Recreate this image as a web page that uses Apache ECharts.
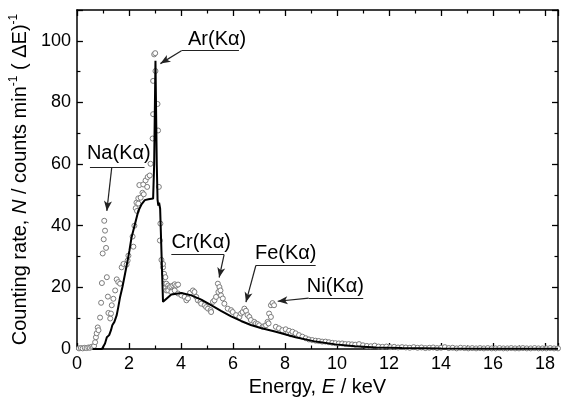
<!DOCTYPE html>
<html><head><meta charset="utf-8">
<script src="https://cdn.jsdelivr.net/npm/echarts@6/dist/echarts.min.js"></script>
<style>html,body{margin:0;padding:0;background:#fff}#c{width:561px;height:408px}</style>
</head><body><div id="c"></div>
<script>
// Measured spectrum (scatter points): [energy keV, counting rate]
const measured = [
[0.08,0.2],[0.15,0.3],[0.22,0.2],[0.3,0.4],[0.37,0.3],[0.44,0.5],[0.5,0.4],[0.56,0.7],[0.62,0.6],[0.66,1.0],[0.7,2.2],[0.73,3.8],[0.76,5.1],[0.8,7.0],[0.83,6.1],[0.89,10.2],[0.93,15.0],[0.96,21.4],[0.99,31.0],[1.03,35.6],[1.05,41.6],[1.08,38.4],[1.12,32.8],[1.15,23.3],[1.19,17.0],[1.21,11.7],[1.28,9.9],[1.31,11.5],[1.34,14.2],[1.40,16.3],[1.47,19.0],[1.53,22.6],[1.59,21.7],[1.66,21.2],[1.72,26.5],[1.79,27.6],[1.91,27.4],[1.95,28.7],[1.98,30.3],[2.14,36.5],[2.17,33.2],[2.21,40.0],[2.26,45.7],[2.29,47.5],[2.31,44.8],[2.36,47.2],[2.36,48.9],[2.40,53.2],[2.45,49.1],[2.52,50.7],[2.55,53.4],[2.57,50.2],[2.64,54.7],[2.70,52.6],[2.72,55.8],[2.80,56.3],[2.83,60.1],[2.91,68.3],[2.93,76.2],[2.93,87.0],[2.97,95.6],[3.01,96.0],[3.02,90.2],[3.10,79.5],[3.12,70.9],[3.15,52.6],[3.19,35.2],[3.21,40.7],[3.25,28.9],[3.31,26.5],[3.31,27.6],[3.35,24.4],[3.38,21.2],[3.40,23.3],[3.44,19.0],[3.44,21.2],[3.51,20.6],[3.51,19.6],[3.51,19.0],[3.57,20.1],[3.63,20.3],[3.63,18.5],[3.70,20.6],[3.76,21.0],[3.76,19.0],[3.82,20.6],[3.89,20.9],[3.89,18.0],[4.02,17.4],[4.14,16.9],[4.21,15.8],[4.27,16.4],[4.35,18.2],[4.46,19.0],[4.52,18.5],[4.59,16.9],[4.65,15.8],[4.75,15.3],[4.78,14.7],[4.91,14.2],[4.97,13.6],[5.04,13.1],[5.14,12.6],[5.16,12.0],[5.23,15.3],[5.29,15.8],[5.35,16.9],[5.42,21.2],[5.44,18.5],[5.48,20.1],[5.52,19.0],[5.54,17.4],[5.61,16.4],[5.67,14.7],[5.80,13.1],[5.93,12.6],[5.99,12.0],[6.12,11.0],[6.25,10.4],[6.31,11.5],[6.37,12.0],[6.44,13.1],[6.50,12.4],[6.56,11.0],[6.63,10.4],[6.69,9.4],[6.82,8.8],[6.88,8.3],[6.95,8.1],[7.01,7.7],[7.14,7.2],[7.20,7.4],[7.27,7.7],[7.33,8.8],[7.37,8.3],[7.39,11.5],[7.46,10.4],[7.46,14.2],[7.52,14.9],[7.58,14.2],[7.65,7.2],[7.77,6.7],[7.90,6.1],[8.03,6.4],[8.10,5.2],[8.16,5.9],[8.22,4.8],[8.29,5.6],[8.41,5.1],[8.54,4.5],[8.67,4.0],[8.80,3.5],[8.92,3.1],[9.05,2.9],[9.18,2.7],[9.30,2.6],[9.43,2.4],[9.56,2.4],[9.69,2.2],[9.82,2.0],[9.94,1.9],[10.07,1.8],[10.20,1.8],[10.32,1.6],[10.45,1.6],[10.58,1.5],[10.7,1.4],[10.85,1.6],[11.0,1.2],[11.15,1.0],[11.3,0.9],[11.45,1.1],[11.6,0.8],[11.75,0.7],[11.9,0.8],[12.05,0.6],[12.2,0.7],[12.35,0.5],[12.5,0.6],[12.65,0.5],[12.8,0.4],[12.95,0.6],[13.1,0.4],[13.25,0.5],[13.4,0.3],[13.55,0.4],[13.7,0.5],[13.85,0.3],[14.0,0.4],[14.15,0.6],[14.3,0.3],[14.45,0.4],[14.6,0.2],[14.75,0.4],[14.9,0.3],[15.05,0.2],[15.2,0.3],[15.35,0.2],[15.5,0.3],[15.65,0.2],[15.8,0.3],[15.95,0.2],[16.1,0.2],[16.25,0.3],[16.4,0.2],[16.55,0.2],[16.7,0.3],[16.85,0.2],[17.0,0.2],[17.15,0.3],[17.3,0.2],[17.45,0.2],[17.6,0.3],[17.75,0.2],[17.9,0.2],[18.05,0.2],[18.2,0.3],[18.35,0.2],[18.5,0.2]
];
// Calculated spectrum (solid line)
const calculated = [
[0.6,0],[0.96,0],[1.08,1.8],[1.15,3.8],[1.24,4.5],[1.31,6.1],[1.36,7.7],[1.44,8.8],[1.53,11],[1.59,13.6],[1.66,16.9],[1.75,20.1],[1.85,24.4],[1.95,28.7],[2.02,32],[2.10,36.2],[2.23,40.5],[2.36,44.8],[2.49,47],[2.61,48.3],[2.75,48.6],[2.93,48.8],[2.97,60],[3.02,93.5],[3.07,60],[3.10,48.5],[3.13,46.5],[3.16,47.5],[3.20,45.5],[3.31,15.3],[3.63,17.7],[4.02,18.2],[4.40,17.4],[4.78,16],[5.16,14.2],[5.54,12.4],[5.93,10.6],[6.31,9.1],[6.69,7.8],[7.07,6.8],[7.65,5.6],[8.41,3.8],[9.18,2.4],[9.94,1.5],[10.7,0.9],[11.5,0.5],[12.5,0.3],[14,0.15],[16,0.08],[18.5,0.05]
];
// Peak annotations: label, text anchor, underline start/end, arrow start/tip (data coords)
const peakLabels = ['Na(K\u03b1)','Ar(K\u03b1)','Cr(K\u03b1)','Fe(K\u03b1)','Ni(K\u03b1)'];
const labelAt   = [[1.61,63.5],[5.39,100.3],[4.78,34.5],[8.03,31.0],[9.94,20.3]];
const underline = [[[0.50,59.0],[2.60,59.0]],[[4.02,96.8],[6.23,96.8]],[[3.63,30.6],[5.66,30.6]],[[6.88,27.1],[9.18,27.1]],[[8.91,16.5],[11.01,16.5]]];
const arrows    = [[[1.34,59.0],[1.15,44.8]],[[4.02,96.8],[3.21,92.6]],[[5.66,30.6],[5.47,23.2]],[[6.88,27.1],[6.50,15.2]],[[8.91,16.5],[7.72,15.5]]];
const xTicks = [0,2,4,6,8,10,12,14,16,18];
const yTicks = [0,20,40,60,80,100];

const FONT = "'Liberation Sans', Arial, Helvetica, sans-serif";
const chart = echarts.init(document.getElementById('c'), null, {renderer:'canvas'});

const axisCommon = {
  type:'value',
  axisLine:{show:true,onZero:false,lineStyle:{color:'#000',width:1.5}},
  axisTick:{show:true,inside:true,length:6,lineStyle:{color:'#000',width:1.3}},
  minorTick:{show:true,splitNumber:2,length:3.5,lineStyle:{color:'#000',width:1.2}},
  splitLine:{show:false}, minorSplitLine:{show:false}
};

const lineMarks = [];
underline.forEach(u=>lineMarks.push([{coord:u[0],symbol:'none'},{coord:u[1],symbol:'none'}]));
arrows.forEach(a=>lineMarks.push([{coord:a[0],symbol:'none'},{coord:a[1],symbol:'arrow',symbolSize:[6,10]}]));

chart.setOption({
  animation:false,
  backgroundColor:'#fff',
  textStyle:{fontFamily:FONT},
  grid:{left:75,right:1,top:10,bottom:59,containLabel:false},
  xAxis:[
    Object.assign({}, axisCommon, {
      position:'bottom', min:0, max:18.5, interval:2,
      axisLabel:{color:'#000',fontSize:18,fontFamily:FONT,margin:6,
        formatter:v=> xTicks.includes(v)? String(v):''},
      name:'{n|Energy, }{i|E}{n| / keV}', nameLocation:'middle', nameGap:25,
      nameTextStyle:{rich:{n:{fontSize:20,fontFamily:FONT,color:'#000'},i:{fontSize:20,fontFamily:FONT,fontStyle:'italic',color:'#000'}}}
    }),
    Object.assign({}, axisCommon, {position:'top', min:0, max:18.5, interval:2, axisLabel:{show:false}})
  ],
  yAxis:[
    Object.assign({}, axisCommon, {
      position:'left', min:0, max:110, interval:20,
      axisLabel:{color:'#000',fontSize:18,fontFamily:FONT,margin:6,
        formatter:v=> yTicks.includes(v)? String(v):''},
      name:'{n|Counting rate, }{i|N}{n| / counts min}{s|-1}{n| ( \u0394E)}{s|-1}',
      nameLocation:'middle', nameGap:46, nameRotate:90,
      nameTextStyle:{rich:{
        n:{fontSize:20,fontFamily:FONT,color:'#000',lineHeight:22,verticalAlign:'bottom'},
        i:{fontSize:20,fontFamily:FONT,fontStyle:'italic',color:'#000',lineHeight:22,verticalAlign:'bottom'},
        s:{fontSize:12,fontFamily:FONT,color:'#000',lineHeight:22,verticalAlign:'top'}}}
    }),
    Object.assign({}, axisCommon, {position:'right', min:0, max:110, interval:20, axisLabel:{show:false}})
  ],
  series:[
    {type:'scatter', data:measured, symbol:'circle', symbolSize:5,
      itemStyle:{color:'#fff',borderColor:'#7c7c7c',borderWidth:1,opacity:1}, z:2},
    {type:'line', data:calculated, showSymbol:false, symbol:'none',
      lineStyle:{color:'#000',width:2}, z:3,
      markLine:{silent:true, symbol:['none','none'], animation:false,
        lineStyle:{color:'#222',width:1.2,type:'solid'}, label:{show:false},
        data:lineMarks},
      markPoint:{silent:true, symbol:'circle', symbolSize:0,
        label:{show:true, position:'inside', color:'#000', fontSize:20, fontFamily:FONT},
        data: peakLabels.map((t,i)=>({coord:labelAt[i], value:t, label:{formatter:t}}))}
    }
  ]
});
</script></body></html>
